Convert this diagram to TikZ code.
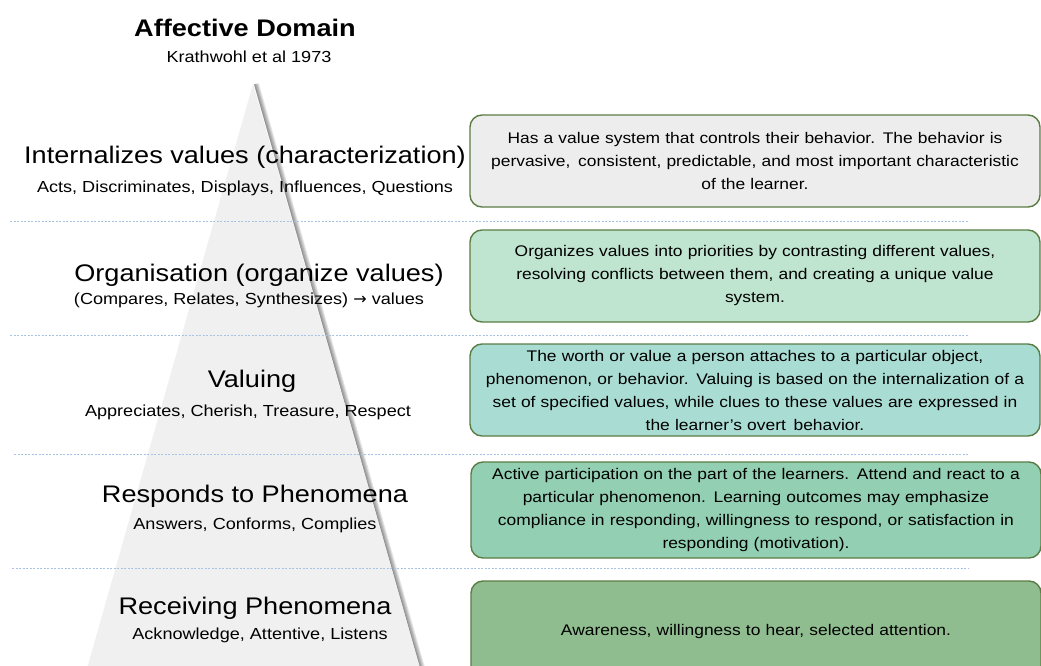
\documentclass[tikz,border=0pt]{standalone}
\usepackage{fontspec}
\setmainfont{Liberation Sans}[FakeStretch=1.13]
\newfontfamily\arrowfont{DejaVu Sans}
\usepackage{xcolor}
\usepackage{tikz}
\usetikzlibrary{positioning}

\definecolor{boxline}{HTML}{5B7D45}
\definecolor{sepline}{HTML}{A7C2E3}
\definecolor{pyrfill}{HTML}{F0F0F0}
\definecolor{fillint}{HTML}{EDEDED}
\definecolor{fillorg}{HTML}{BFE4CF}
\definecolor{fillval}{HTML}{A9DCD3}
\definecolor{fillres}{HTML}{93CFB2}
\definecolor{fillrec}{HTML}{8FBD8F}

\newcommand{\headfont}{\fontsize{24}{28}\selectfont\bfseries}
\newcommand{\lvlfont}{\fontsize{24}{28}\selectfont}
\newcommand{\verbfont}{\fontsize{16}{19}\selectfont}
\newcommand{\descfont}{\fontsize{15.4}{23}\selectfont}

\tikzstyle{level} = [font=\lvlfont, inner sep=0pt, text height=17pt, text depth=5pt]
\tikzstyle{verbs} = [font=\verbfont, inner sep=0pt, text height=11pt, text depth=3.5pt]
\tikzstyle{desc} = [rectangle, draw=boxline, line width=1.4pt, rounded corners=12pt,
    text width=550pt, align=center, inner xsep=10pt, inner ysep=0pt,
    minimum height=92pt, font=\descfont]

\begin{document}
\begin{tikzpicture}[x=1pt,y=-1pt]
    \useasboundingbox (0,0) rectangle (1041,666);
    \clip (0,0) rectangle (1041,666);

    % pyramid with a soft shadow on its right side
    \foreach \s in {1,...,5}
        \draw[black, opacity=0.1, line width=\s pt] (254+\s*0.5,84) -- (420+\s*0.5,668);
    \fill[pyrfill] (253,84) -- (86,672) -- (420,668) -- cycle;

    % separators
    \foreach \x/\y in {10/221, 10/335, 14/454, 12/568}
        \draw[sepline, line width=0.8pt, dash pattern=on 2pt off 1.5pt] (\x,\y) -- (968,\y);

    \node[level, font=\headfont] (heading) at (245,31) {Affective Domain};
    \node[verbs, below=9pt of heading, xshift=4pt] (source) {Krathwohl et al 1973};

    \node[level] (inttitle) at (245,157) {Internalizes values (characterization)};
    \node[verbs, below=13pt of inttitle] (intverbs) {Acts, Discriminates, Displays, Influences, Questions};

    \node[level] (orgtitle) at (259,275) {Organisation (organize values)};
    \node[verbs, below=7pt of orgtitle, xshift=-10pt] (orgverbs) {(Compares, Relates, Synthesizes) {\arrowfont →} values};

    \node[level] (valtitle) at (252,381) {Valuing};
    \node[verbs, below=13pt of valtitle, xshift=-4pt] (valverbs) {Appreciates, Cherish, Treasure, Respect};

    \node[level] (restitle) at (255,496) {Responds to Phenomena};
    \node[verbs, below=11pt of restitle] (resverbs) {Answers, Conforms, Complies};

    \node[level] (rectitle) at (255,608) {Receiving Phenomena};
    \node[verbs, below=9pt of rectitle, xshift=5pt] (recverbs) {Acknowledge, Attentive, Listens};

    % descriptions
    \node[desc, fill=fillint] (intbox) at (755,161) {Has a value system that controls their behavior. The behavior is\\ pervasive,\, consistent, predictable, and most important characteristic\\ of the learner.};
    \node[desc, fill=fillorg] (orgbox) at (755,276) {Organizes values into priorities by contrasting different values,\\ resolving conflicts between them, and creating a unique value\\ system.};
    \node[desc, fill=fillval] (valbox) at (755,390) {The worth or value a person attaches to a particular object,\\ phenomenon, or behavior. Valuing is based on the internalization of a\\ set of specified values, while clues to these values are expressed in\\ the learner's overt\, behavior.};
    \node[desc, fill=fillres, minimum height=96pt] (resbox) at (756,510) {Active participation on the part of the learners. Attend and react to a\\ particular phenomenon. Learning outcomes may emphasize\\ compliance in responding, willingness to respond, or satisfaction in\\ responding (motivation).};
    \node[desc, fill=fillrec, minimum height=102pt] (recbox) at (756,632) {Awareness, willingness to hear, selected attention.};
\end{tikzpicture}
\end{document}
